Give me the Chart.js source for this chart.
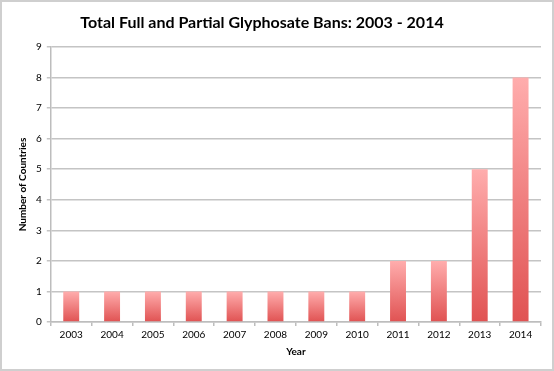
<!DOCTYPE html>
<html><head><meta charset="utf-8">
<script src="https://cdn.jsdelivr.net/npm/chart.js@4/dist/chart.umd.min.js"></script>
<style>html,body{margin:0;padding:0;background:#fff}#wrap{width:554px;height:371px;position:relative}</style>
</head><body><div id="wrap"><canvas id="c" width="554" height="371"></canvas></div>
<script>
const years = ["2003","2004","2005","2006","2007","2008","2009","2010","2011","2012","2013","2014"];
const bans = [1,1,1,1,1,1,1,1,2,2,5,8];
const yTicks = [0,1,2,3,4,5,6,7,8,9];
const titleText = 'Total Full and Partial Glyphosate Bans: 2003 - 2014';

const borderPlugin = {
  id:'outerBorder',
  beforeDraw(chart){
    const ctx = chart.ctx;
    ctx.save();
    ctx.fillStyle='#fff';
    ctx.fillRect(0,0,chart.width,chart.height);
    ctx.strokeStyle='#cfcfcf';
    ctx.lineWidth=2;
    ctx.strokeRect(1,1,chart.width-2,chart.height-2);
    ctx.restore();
  },
  afterDraw(chart){
    const ctx = chart.ctx;
    ctx.save();
    ctx.fillStyle='#000';
    ctx.font='bold 16px Lato';
    ctx.textAlign='center';
    ctx.textBaseline='middle';
    ctx.fillText(titleText, 262, 23);
    ctx.restore();
  }
};

function barGradient(context){
  const chart = context.chart;
  const y = chart.scales && chart.scales.y;
  if(!chart.chartArea || !y) return '#f07070';
  const v = context.raw;
  const top = y.getPixelForValue(v);
  const bottom = y.getPixelForValue(0);
  const g = chart.ctx.createLinearGradient(0, top, 0, bottom);
  g.addColorStop(0, '#ffadad');
  g.addColorStop(1, '#e05252');
  return g;
}

new Chart(document.getElementById('c'), {
  type:'bar',
  data:{labels:years, datasets:[{data:bans, backgroundColor:barGradient, borderWidth:0, categoryPercentage:1, barPercentage:0.39}]},
  options:{
    responsive:false, animation:false, devicePixelRatio:1,
    layout:{padding:{left:17,right:13,top:47,bottom:13}},
    plugins:{
      legend:{display:false}, tooltip:{enabled:false}, title:{display:false}
    },
    scales:{
      x:{
        grid:{drawOnChartArea:false, drawTicks:true, tickLength:4, color:'#bdbdbd', lineWidth:1.5},
        border:{color:'#bdbdbd', width:1.5},
        ticks:{color:'#000', font:{family:'Lato', size:10}, padding:3},
        title:{display:true, text:'Year', color:'#000', font:{family:'Lato', size:10, weight:'bold'}, padding:{top:2,bottom:0}}
      },
      y:{
        min:0, max:9,
        afterBuildTicks(axis){ axis.ticks = yTicks.map(v=>({value:v})); },
        grid:{color:'#c4c4c4', lineWidth:1.5, tickLength:4},
        border:{color:'#bdbdbd', width:1.5},
        ticks:{color:'#000', font:{family:'Lato', size:10}, padding:5},
        title:{display:true, text:'Number of Countries', color:'#000', font:{family:'Lato', size:10, weight:'bold'}, padding:{top:0,bottom:2}}
      }
    }
  },
  plugins:[borderPlugin]
});
</script></body></html>
